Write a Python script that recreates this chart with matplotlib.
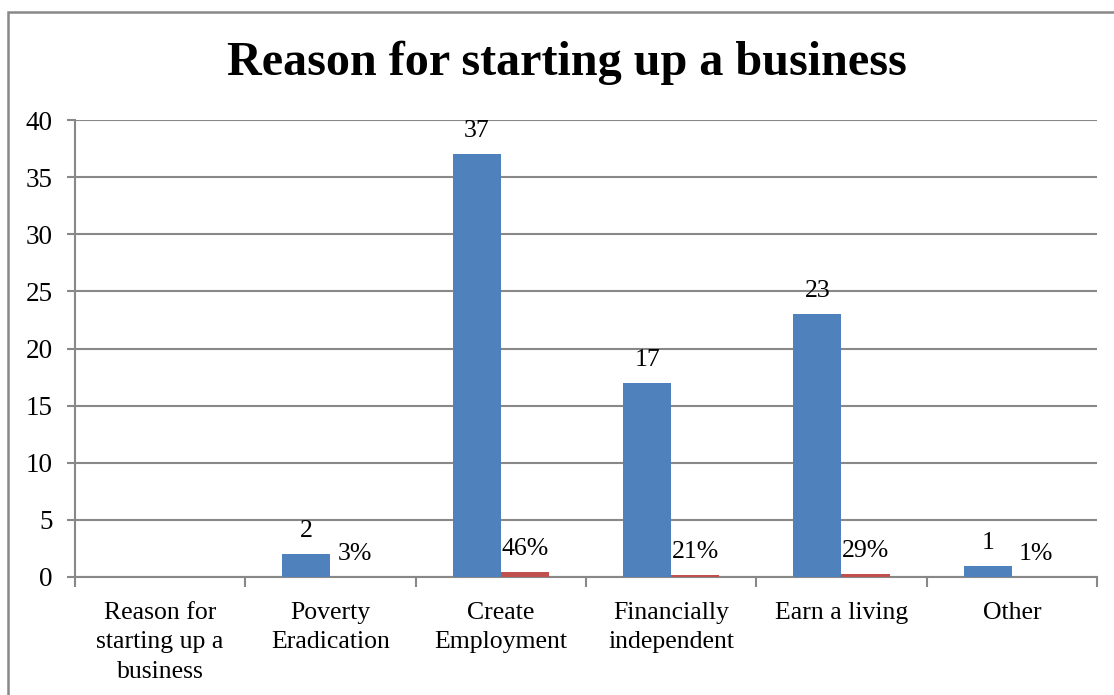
import numpy as np
import matplotlib.pyplot as plt
from matplotlib.patches import Rectangle

# reasons given and responses
categories = ["Reason for\nstarting up a\nbusiness", "Poverty\nEradication",
              "Create\nEmployment", "Financially\nindependent",
              "Earn a living", "Other"]
counts = [np.nan, 2, 37, 17, 23, 1]
shares = [np.nan, 0.03, 0.46, 0.21, 0.29, 0.01]
yticks = [0, 5, 10, 15, 20, 25, 30, 35, 40]

plt.rcParams['font.family'] = ['Liberation Serif', 'DejaVu Serif']

fig = plt.figure(figsize=(11.14, 6.95), dpi=100)
ax = fig.add_axes([75/1114, 118/695, 1022/1114, 457/695])

x = np.arange(len(categories))
w = 0.282
blue = ax.bar(x - w/2, counts, w, color='#4F81BD', zorder=3)
red = ax.bar(x + w/2, shares, w, color='#C0504D', zorder=3)

for xi, v in zip(x, counts):
    if np.isnan(v):
        continue
    ax.annotate(f"{v:g}", (xi - w/2, v), xytext=(0, 23), textcoords='offset pixels',
                ha='center', va='center', fontsize=18.5)
for xi, v in zip(x, shares):
    if np.isnan(v):
        continue
    ax.annotate(f"{v:.0%}", (xi + w/2, v), xytext=(0, 23), textcoords='offset pixels',
                ha='center', va='center', fontsize=18.5)

ax.set_xlim(-0.5, len(categories) - 0.5)
ax.set_ylim(0, 40)
ax.set_yticks(yticks)
ax.set_yticklabels([str(t) for t in yticks], fontsize=19.5)
ax.yaxis.grid(True, color='#888888', linewidth=1.5, zorder=0)
ax.tick_params(axis='y', length=6, width=1.5, color='#888888', pad=10)

ax.set_xticks(x)
ax.set_xticklabels(categories, fontsize=18.5, linespacing=1.43)
ax.set_xticks(np.arange(len(categories) + 1) - 0.5, minor=True)
ax.tick_params(axis='x', which='major', length=0, pad=18)
ax.tick_params(axis='x', which='minor', length=7, width=1.5, color='#888888')

for side in ['top', 'right']:
    ax.spines[side].set_visible(False)
for side in ['left', 'bottom']:
    ax.spines[side].set_color('#888888')
    ax.spines[side].set_linewidth(1.5)

fig.text(567/1114, 1 - 63/695, "Reason for starting up a business",
         ha='center', va='center', fontsize=34.7, fontweight='bold')

# chart area outline
fig.patches.append(Rectangle((8/1114, -0.1), 1.2, 1 - 12/695 + 0.1,
                             transform=fig.transFigure, fill=False,
                             edgecolor='#888888', linewidth=1.8))

fig.savefig('out.png', dpi=100)
